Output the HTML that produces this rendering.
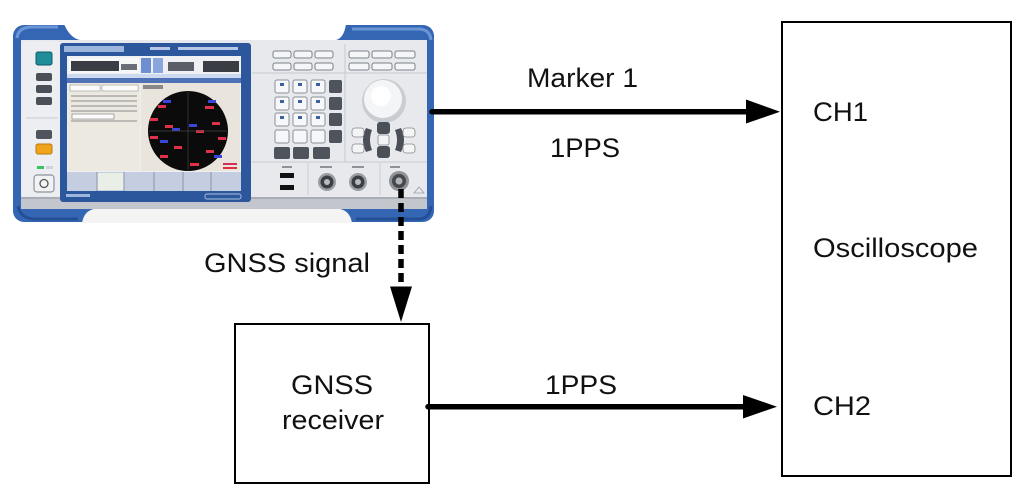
<!DOCTYPE html>
<html>
<head>
<meta charset="utf-8">
<style>
  html,body{margin:0;padding:0;background:#fff;}
  svg{display:block;}
  text{font-family:"Liberation Sans",Arial,sans-serif;font-size:27px;fill:#111;}
</style>
</head>
<body>
<svg width="1027" height="489" viewBox="0 0 1027 489" xmlns="http://www.w3.org/2000/svg">
  <rect width="1027" height="489" fill="#fff"/>

  <!-- ===== Instrument (signal generator) ===== -->
  <g>
    <!-- blue frame / bumpers -->
    <rect x="13" y="25" width="421" height="197" rx="11" fill="#3566b4"/>
    <!-- top middle cut -->
    <path d="M64,24 Q70,38 80,40 L336,40 Q344,38 346,24 Z" fill="#fff"/>
    <!-- bottom middle cut -->
    <path d="M82,223 Q84,211 94,209 L340,209 Q350,211 352,223 Z" fill="#f4f4f4"/>
    <!-- bumper highlights -->
    <path d="M17,38 Q18,28 30,27 L58,27" stroke="#6b95d6" stroke-width="3" fill="none"/>
    <path d="M352,29 L420,29 Q430,30 431,40" stroke="#6b95d6" stroke-width="3" fill="none"/>
    <path d="M18,206 Q20,218 34,219 L78,219" stroke="#244f96" stroke-width="3" fill="none"/>
    <path d="M356,219 L420,219 Q430,218 431,206" stroke="#244f96" stroke-width="3" fill="none"/>

    <!-- main panel -->
    <rect x="21" y="40" width="406" height="158" fill="#e7e9ed"/>
    <!-- bottom grey strip -->
    <rect x="21" y="197" width="406" height="12" fill="#c3c7cd"/>
    <rect x="21" y="197" width="406" height="2" fill="#a9aeb6"/>

    <!-- left button column -->
    <rect x="22" y="42" width="38" height="154" fill="#eceef1"/>
    <line x1="26" y1="118" x2="58" y2="118" stroke="#c9ccd2" stroke-width="1"/>
    <rect x="36" y="52" width="16" height="13" rx="2" fill="#1f8e98" stroke="#0e5f68" stroke-width="1"/>
    <rect x="36" y="73" width="16" height="8" rx="2" fill="#4b5058"/>
    <rect x="36" y="85" width="16" height="8" rx="2" fill="#4b5058"/>
    <rect x="36" y="97" width="16" height="8" rx="2" fill="#4b5058"/>
    <rect x="36" y="130" width="16" height="9" rx="2" fill="#50555d"/>
    <rect x="36" y="144" width="16" height="10" rx="2" fill="#f0a419" stroke="#b87a10" stroke-width="1"/>
    <rect x="37" y="166" width="7" height="3" fill="#3cc25a"/>
    <rect x="46" y="166" width="7" height="3" fill="#cfd3d8"/>
    <rect x="34" y="175" width="20" height="17" rx="3" fill="#f1f2f4" stroke="#8d939b" stroke-width="1.2"/>
    <circle cx="44" cy="183.5" r="4" fill="none" stroke="#555" stroke-width="1.3"/>

    <!-- display frame -->
    <rect x="60" y="43" width="191" height="159" rx="3" fill="#2d579c"/>
    <rect x="64" y="46" width="60" height="6" fill="#9fb6dc"/>
    <rect x="150" y="47" width="20" height="3" fill="#b7c8e6"/>
    <rect x="178" y="47" width="60" height="3" fill="#b7c8e6"/>
    <!-- screen -->
    <rect x="67" y="56" width="174" height="135" fill="#eef0f4"/>
    <rect x="69" y="58" width="70" height="15" fill="#f7f7f7"/>
    <rect x="71" y="61" width="48" height="10" fill="#3a3d44"/>
    <rect x="121" y="64" width="16" height="6" fill="#6a6e76"/>
    <rect x="141" y="58" width="10" height="15" fill="#6d8fd2"/>
    <rect x="153" y="58" width="10" height="15" fill="#8aa6dc"/>
    <rect x="168" y="62" width="26" height="9" fill="#5a5e66"/>
    <rect x="203" y="61" width="36" height="11" fill="#3a3d44"/>
    <rect x="67" y="74" width="174" height="4" fill="#cdd9ee"/>
    <rect x="67" y="78" width="174" height="5" fill="#4f72b7"/>
    <!-- left data panel -->
    <rect x="68" y="83" width="72" height="88" fill="#ece9e1"/>
    <rect x="70" y="85" width="30" height="6" fill="#fbfbfb" stroke="#999" stroke-width="0.6"/>
    <rect x="102" y="85" width="36" height="6" fill="#fbfbfb" stroke="#999" stroke-width="0.6"/>
    <g stroke="#8c8c8c" stroke-width="1">
      <line x1="71" y1="96" x2="137" y2="96"/>
      <line x1="71" y1="101" x2="137" y2="101"/>
      <line x1="71" y1="106" x2="137" y2="106"/>
      <line x1="71" y1="111" x2="137" y2="111"/>
      <line x1="71" y1="121" x2="137" y2="121"/>
    </g>
    <rect x="72" y="114" width="42" height="5" fill="#fbfbfb" stroke="#777" stroke-width="0.6"/>
    <!-- sky view panel -->
    <rect x="141" y="83" width="99" height="88" fill="#e9e5dc"/>
    <rect x="143" y="85" width="20" height="4" fill="#888"/>
    <circle cx="188" cy="131" r="40" fill="#0b0b0b"/>
    <g fill="#e0304a">
      <rect x="158" y="105" width="8" height="3"/>
      <rect x="205" y="106" width="9" height="3"/>
      <rect x="150" y="118" width="8" height="3"/>
      <rect x="212" y="122" width="8" height="3"/>
      <rect x="165" y="125" width="8" height="3"/>
      <rect x="196" y="130" width="8" height="3"/>
      <rect x="150" y="136" width="8" height="3"/>
      <rect x="218" y="137" width="8" height="3"/>
      <rect x="174" y="146" width="8" height="3"/>
      <rect x="206" y="150" width="8" height="3"/>
      <rect x="160" y="155" width="8" height="3"/>
      <rect x="190" y="163" width="9" height="3"/>
    </g>
    <g fill="#3b46d8">
      <rect x="163" y="100" width="8" height="3"/>
      <rect x="208" y="100" width="8" height="3"/>
      <rect x="189" y="124" width="8" height="3"/>
      <rect x="172" y="128" width="8" height="3"/>
      <rect x="160" y="140" width="8" height="3"/>
      <rect x="214" y="155" width="8" height="3"/>
    </g>
    <line x1="188" y1="92" x2="188" y2="170" stroke="#444" stroke-width="0.7"/>
    <line x1="149" y1="131" x2="227" y2="131" stroke="#444" stroke-width="0.7"/>
    <rect x="223" y="163" width="14" height="2" fill="#d0305a"/>
    <rect x="223" y="167" width="14" height="2" fill="#e03040"/>
    <!-- softkey bar -->
    <rect x="67" y="172" width="174" height="19" fill="#c5cee0"/>
    <rect x="97" y="173" width="27" height="17" fill="#e9efe6"/>
    <g stroke="#8793ab" stroke-width="1">
      <line x1="97" y1="172" x2="97" y2="191"/>
      <line x1="124" y1="172" x2="124" y2="191"/>
      <line x1="154" y1="172" x2="154" y2="191"/>
      <line x1="183" y1="172" x2="183" y2="191"/>
      <line x1="211" y1="172" x2="211" y2="191"/>
    </g>
    <rect x="205" y="194" width="36" height="5" rx="2" fill="none" stroke="#a9bde0" stroke-width="1"/>
    <rect x="66" y="194" width="24" height="3" fill="#9fb6dc"/>

    <!-- keypad area dividers -->
    <line x1="252" y1="73" x2="427" y2="73" stroke="#c6cad0" stroke-width="1"/>
    <line x1="345" y1="44" x2="345" y2="162" stroke="#c6cad0" stroke-width="1"/>
    <line x1="252" y1="162" x2="427" y2="162" stroke="#c6cad0" stroke-width="1"/>
    <!-- function keys left -->
    <g fill="#f5f6f8" stroke="#7b818a" stroke-width="1">
      <rect x="273" y="51" width="18" height="7" rx="2"/>
      <rect x="294" y="51" width="18" height="7" rx="2"/>
      <rect x="315" y="51" width="18" height="7" rx="2"/>
      <rect x="273" y="63" width="18" height="7" rx="2"/>
      <rect x="294" y="63" width="18" height="7" rx="2"/>
      <rect x="315" y="63" width="18" height="7" rx="2"/>
      <rect x="349" y="51" width="20" height="7" rx="2"/>
      <rect x="372" y="51" width="20" height="7" rx="2"/>
      <rect x="395" y="51" width="20" height="7" rx="2"/>
      <rect x="349" y="63" width="20" height="7" rx="2"/>
      <rect x="372" y="63" width="20" height="7" rx="2"/>
      <rect x="395" y="63" width="20" height="7" rx="2"/>
    </g>
    <!-- numeric keys -->
    <g fill="#f6f7f9" stroke="#8a9099" stroke-width="1">
      <rect x="275" y="80" width="14" height="13" rx="2"/>
      <rect x="293" y="80" width="14" height="13" rx="2"/>
      <rect x="311" y="80" width="14" height="13" rx="2"/>
      <rect x="275" y="97" width="14" height="13" rx="2"/>
      <rect x="293" y="97" width="14" height="13" rx="2"/>
      <rect x="311" y="97" width="14" height="13" rx="2"/>
      <rect x="275" y="113" width="14" height="13" rx="2"/>
      <rect x="293" y="113" width="14" height="13" rx="2"/>
      <rect x="311" y="113" width="14" height="13" rx="2"/>
      <rect x="275" y="130" width="14" height="13" rx="2"/>
      <rect x="293" y="130" width="14" height="13" rx="2"/>
      <rect x="311" y="130" width="14" height="13" rx="2"/>
    </g>
    <g fill="#4e535c">
      <rect x="329" y="80" width="13" height="13" rx="2"/>
      <rect x="329" y="97" width="13" height="13" rx="2"/>
      <rect x="329" y="113" width="13" height="13" rx="2"/>
      <rect x="329" y="130" width="13" height="13" rx="2"/>
      <rect x="274" y="147" width="16" height="12" rx="2"/>
      <rect x="293" y="147" width="16" height="12" rx="2"/>
      <rect x="313" y="147" width="17" height="12" rx="2"/>
    </g>
    <g fill="#3c5f9e">
      <rect x="280" y="83" width="4" height="3"/><rect x="298" y="83" width="4" height="3"/><rect x="316" y="83" width="4" height="3"/>
      <rect x="280" y="100" width="4" height="3"/><rect x="298" y="100" width="4" height="3"/><rect x="316" y="100" width="4" height="3"/>
      <rect x="280" y="116" width="4" height="3"/><rect x="298" y="116" width="4" height="3"/><rect x="316" y="116" width="4" height="3"/>
    </g>
    <!-- rotary knob -->
    <circle cx="384" cy="101" r="22" fill="#c9ccd1"/>
    <circle cx="383" cy="99" r="19" fill="#f4f5f7"/>
    <circle cx="381" cy="96" r="10" fill="#ffffff"/>
    <!-- nav cluster -->
    <rect x="377" y="122" width="13" height="12" rx="3" fill="#4a4f58"/>
    <rect x="377" y="146" width="13" height="12" rx="3" fill="#4a4f58"/>
    <rect x="378" y="135" width="11" height="10" rx="2" fill="#f3f4f6" stroke="#888" stroke-width="0.8"/>
    <path d="M366,128 Q360,140 366,152 L372,150 Q368,140 372,130 Z" fill="#4a4f58"/>
    <path d="M401,128 Q407,140 401,152 L395,150 Q399,140 395,130 Z" fill="#4a4f58"/>
    <rect x="352" y="128" width="12" height="9" rx="3" fill="#f3f4f6" stroke="#888" stroke-width="0.8"/>
    <rect x="352" y="144" width="12" height="9" rx="3" fill="#f3f4f6" stroke="#888" stroke-width="0.8"/>
    <rect x="403" y="128" width="12" height="9" rx="3" fill="#f3f4f6" stroke="#888" stroke-width="0.8"/>
    <rect x="403" y="144" width="12" height="9" rx="3" fill="#f3f4f6" stroke="#888" stroke-width="0.8"/>
    <!-- connector row -->
    <line x1="308" y1="163" x2="308" y2="195" stroke="#cdd0d5" stroke-width="1"/>
    <line x1="380" y1="163" x2="380" y2="195" stroke="#cdd0d5" stroke-width="1"/>
    <g fill="#8e939b">
      <rect x="282" y="166" width="10" height="2"/>
      <rect x="320" y="166" width="12" height="2"/>
      <rect x="352" y="166" width="12" height="2"/>
      <rect x="390" y="166" width="10" height="2"/>
    </g>
    <rect x="280" y="173" width="14" height="5" fill="#111"/>
    <rect x="280" y="185" width="14" height="5" fill="#111"/>
    <g>
      <circle cx="327" cy="182" r="9" fill="#9a9ea4"/>
      <circle cx="327" cy="182" r="6.5" fill="#3b3e43"/>
      <circle cx="327" cy="182" r="3" fill="#b8bcc1"/>
      <circle cx="358" cy="182" r="9" fill="#9a9ea4"/>
      <circle cx="358" cy="182" r="6.5" fill="#3b3e43"/>
      <circle cx="358" cy="182" r="3" fill="#b8bcc1"/>
      <circle cx="399" cy="181" r="10" fill="#8f9399"/>
      <circle cx="399" cy="181" r="7" fill="#45484d"/>
      <circle cx="399" cy="181" r="3.5" fill="#b0b4b9"/>
    </g>
    <path d="M414,193 L419,187 L424,193 Z" fill="none" stroke="#9aa0a8" stroke-width="0.8"/>
  </g>

  <!-- ===== Boxes ===== -->
  <rect x="782" y="22" width="229" height="454" fill="none" stroke="#000" stroke-width="2"/>
  <rect x="235" y="324" width="194" height="159" fill="none" stroke="#000" stroke-width="2"/>

  <!-- ===== Connectors ===== -->
  <!-- Marker 1 / 1PPS -->
  <line x1="432" y1="111.7" x2="750" y2="111.7" stroke="#000" stroke-width="5.5" stroke-linecap="round"/>
  <polygon points="746,99.5 780,111.7 746,123.5" fill="#000"/>
  <!-- GNSS receiver 1PPS -->
  <line x1="428" y1="406.7" x2="747" y2="406.7" stroke="#000" stroke-width="5.5" stroke-linecap="round"/>
  <polygon points="743,395 777,406.7 743,418.5" fill="#000"/>
  <!-- GNSS signal dashed -->
  <line x1="401" y1="189" x2="401" y2="288" stroke="#000" stroke-width="5.5" stroke-dasharray="9 5"/>
  <polygon points="390,286.5 412,286.5 401,322" fill="#000"/>

  <!-- ===== Labels ===== -->
  <text x="527" y="87" textLength="111" lengthAdjust="spacingAndGlyphs">Marker 1</text>
  <text x="550" y="157" textLength="70" lengthAdjust="spacingAndGlyphs">1PPS</text>
  <text x="204" y="272" textLength="166" lengthAdjust="spacingAndGlyphs">GNSS signal</text>
  <text x="291" y="394" textLength="82" lengthAdjust="spacingAndGlyphs">GNSS</text>
  <text x="282" y="429" textLength="102" lengthAdjust="spacingAndGlyphs">receiver</text>
  <text x="545" y="394" textLength="72" lengthAdjust="spacingAndGlyphs">1PPS</text>
  <text x="813" y="121" textLength="55" lengthAdjust="spacingAndGlyphs">CH1</text>
  <text x="813" y="257" textLength="165" lengthAdjust="spacingAndGlyphs">Oscilloscope</text>
  <text x="813" y="415" textLength="58" lengthAdjust="spacingAndGlyphs">CH2</text>
</svg>
</body>
</html>
